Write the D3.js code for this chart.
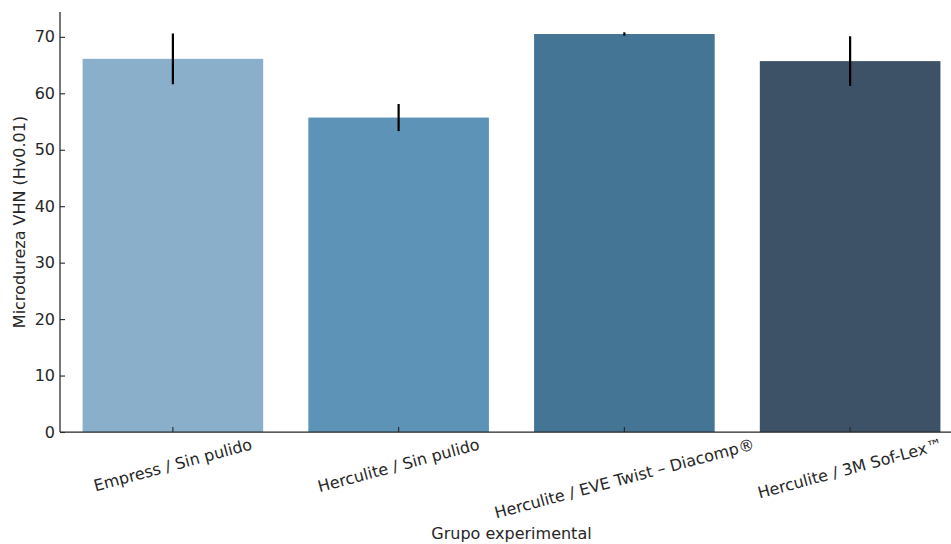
<!DOCTYPE html>
<html><head><meta charset="utf-8">
<script src="https://cdn.jsdelivr.net/npm/d3@7"></script>
<style>body{margin:0;background:#fff}svg{display:block;font-family:"DejaVu Sans",sans-serif}</style>
</head><body><svg id="c" width="951" height="544"></svg>
<script>
const categories = ["Empress / Sin pulido","Herculite / Sin pulido","Herculite / EVE Twist – Diacomp®","Herculite / 3M Sof-Lex™"];
const means = [66.1, 55.7, 70.5, 65.7];
const sds = [4.5, 2.4, 0.3, 4.4];
const colors = ["#89afca","#5e93b8","#457595","#3d5266"];
const yTicks = [0,10,20,30,40,50,60,70];

const svg = d3.select("#c");
const L = 60, R = 963, T = 12, B = 432;
const x = d3.scaleBand().domain(categories).range([L, R]).paddingInner(0.2).paddingOuter(0.1);
const y = d3.scaleLinear().domain([0, 74.4]).range([B, T]);
const ink = "#262626";
const fs = 16;

svg.selectAll("rect.bar").data(categories).join("rect")
  .attr("x", d => x(d)).attr("width", x.bandwidth())
  .attr("y", (d,i) => y(means[i])).attr("height", (d,i) => B - y(means[i]))
  .attr("fill", (d,i) => colors[i]);

svg.selectAll("line.err").data(categories).join("line")
  .attr("x1", d => x(d) + x.bandwidth()/2).attr("x2", d => x(d) + x.bandwidth()/2)
  .attr("y1", (d,i) => y(means[i] + sds[i])).attr("y2", (d,i) => y(means[i] - sds[i]))
  .attr("stroke", "#000").attr("stroke-width", 2.2);

// y axis
const ya = svg.append("g").attr("transform", `translate(${L},0)`)
  .call(d3.axisLeft(y).tickValues(yTicks).tickSizeInner(-5).tickSizeOuter(0).tickPadding(5));
ya.attr("font-size", null).attr("font-family", null);
ya.select(".domain").attr("stroke", ink).attr("stroke-width", 1.25).attr("d", `M0,${T}V${B}`);
ya.selectAll(".tick line").attr("stroke", ink).attr("stroke-width", 1.1);
ya.selectAll(".tick text").attr("fill", ink).style("font-size", fs + "px");

// x axis
const xa = svg.append("g").attr("transform", `translate(0,${B})`)
  .call(d3.axisBottom(x).tickSizeInner(-5).tickSizeOuter(0).tickFormat(""));
xa.select(".domain").attr("stroke", ink).attr("stroke-width", 1.25).attr("d", `M${L},0H${R}`);
xa.selectAll(".tick line").attr("stroke", ink).attr("stroke-width", 1.1);

const a = 15 * Math.PI / 180;
categories.forEach(c => {
  const t = svg.append("text").text(c).style("font-size", fs + "px").attr("fill", ink)
    .attr("text-anchor", "middle").attr("dominant-baseline", "central");
  const w = t.node().getComputedTextLength();
  const h = fs * 1.15;
  const bh = w * Math.sin(a) + h * Math.cos(a);
  const cx = x(c) + x.bandwidth()/2, cy = B + 3 + bh/2;
  t.attr("transform", `translate(${cx},${cy}) rotate(-15)`);
});

svg.append("text").text("Grupo experimental").attr("x", (L+R)/2).attr("y", 539)
  .attr("text-anchor", "middle").style("font-size", fs + "px").attr("fill", ink);
svg.append("text").text("Microdureza VHN (Hv0.01)")
  .attr("transform", `translate(25,${(T+B)/2}) rotate(-90)`)
  .attr("text-anchor", "middle").style("font-size", fs + "px").attr("fill", ink);
</script></body></html>
